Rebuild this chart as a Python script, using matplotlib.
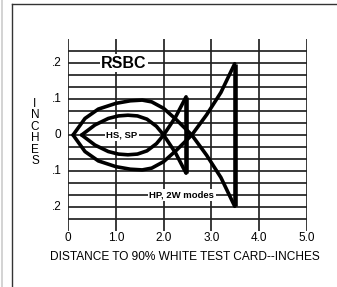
import numpy as np
import matplotlib
matplotlib.use("Agg")
import matplotlib.pyplot as plt
from matplotlib.lines import Line2D

plt.rcParams['font.family'] = ['Liberation Sans', 'DejaVu Sans']

# outer curve (HP, 2W modes): upper branch, ends at the bottom of the 3.5" bar
outer_x = [0.10, 0.35, 0.63, 1.00, 1.30, 1.55, 1.75, 2.00, 2.27, 2.59, 2.90, 3.20, 3.49]
outer_y = [0.0, 0.046, 0.072, 0.088, 0.095, 0.097, 0.092, 0.074, 0.042, 0.0, -0.056, -0.118, -0.198]

# inner curve (HS, SP): upper branch, ends at the bottom of the 2.47" bar
inner_x = [0.28, 0.56, 0.84, 1.05, 1.25, 1.45, 1.65, 1.85, 2.00, 2.25, 2.47]
inner_y = [0.0, 0.028, 0.046, 0.053, 0.055, 0.053, 0.044, 0.024, 0.0, -0.050, -0.106]

x_ticks = [0, 1, 2, 3, 4, 5]
x_tick_labels = ['0', '1.0', '2.0', '3.0', '4.0', '5.0']
y_ticks = [0.2, 0.1, 0.0, -0.1, -0.2]
y_tick_labels = ['.2', '.1', '0', '.1', '.2']
grid_rows = [k / 30 for k in range(-7, 8)]

W, H = 337, 287
fig = plt.figure(figsize=(W / 100, H / 100), dpi=100)

# page frame
fig.add_artist(Line2D([12 / W, 12 / W], [0, 1 - 4 / H], color='#333333', lw=1.0))
fig.add_artist(Line2D([12 / W, 1], [1 - 4 / H, 1 - 4 / H], color='#333333', lw=1.0))
fig.add_artist(Line2D([1.5 / W, 1.5 / W], [0, 1], color='#cccccc', lw=1.2))

# axes: x 0..5 -> px 68.3..306.7, y +/-0.2667 -> px 39..231
x0, x1 = 68.3, 306.7
ytop, ybot = 39.0, 231.0
ax = fig.add_axes([x0 / W, 1 - ybot / H, (x1 - x0) / W, (ybot - ytop) / H])
ax.set_xlim(0, 5)
ax.set_ylim(-0.2667, 0.2667)
ax.axis('off')

ax.hlines(grid_rows, 0, 5, color='#222222', lw=1.25, zorder=1)
ax.vlines(x_ticks, -0.2667, 0.2667, color='#222222', lw=1.25, zorder=1)

lw_curve = 2.6
for xs, ys in [(outer_x, outer_y), (inner_x, inner_y)]:
    xs = np.array(xs)
    ys = np.array(ys)
    ax.plot(xs, ys, color='black', lw=lw_curve, solid_joinstyle='round',
            solid_capstyle='round', zorder=3, clip_on=False)
    ax.plot(xs, -ys, color='black', lw=lw_curve, solid_joinstyle='round',
            solid_capstyle='round', zorder=3, clip_on=False)
    ax.plot([xs[-1], xs[-1]], [ys[-1], -ys[-1]], color='black', lw=3.3,
            solid_capstyle='butt', zorder=3, clip_on=False)

box = dict(facecolor='white', edgecolor='none', pad=1.0)
ax.text(1.17, 0.2, 'RSBC', fontsize=11.5, fontweight='bold', ha='center',
        va='center', bbox=box, zorder=4)
ax.text(1.12, 0.0, 'HS, SP', fontsize=6.8, fontweight='bold', ha='center',
        va='center', bbox=box, zorder=4)
ax.text(2.38, -5 / 30, 'HP, 2W modes', fontsize=6.8, fontweight='bold',
        ha='center', va='center', bbox=box, zorder=4)

for xt, lab in zip(x_ticks, x_tick_labels):
    ax.text(xt, -0.287, lab, fontsize=8.5, ha='center', va='center', clip_on=False)
for yt, lab in zip(y_ticks, y_tick_labels):
    ax.text(-0.14, yt, lab, fontsize=8.5, ha='right', va='center', clip_on=False)

fig.text(185 / W, 1 - 257.5 / H, 'DISTANCE TO 90% WHITE TEST CARD--INCHES',
         fontsize=8.6, ha='center', va='center')
for i, ch in enumerate('INCHES'):
    fig.text(35 / W, 1 - (104 + i * 11.4) / H, ch, fontsize=8.5,
             ha='center', va='center')

fig.savefig('out.png', dpi=100)
